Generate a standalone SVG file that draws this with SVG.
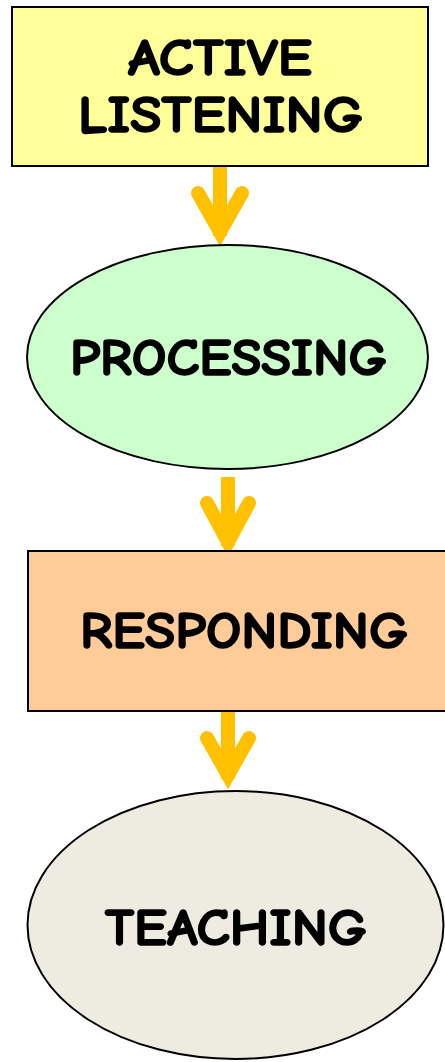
<svg xmlns="http://www.w3.org/2000/svg" width="445" height="1062" viewBox="0 0 445 1062">
<style>
.shape{stroke:#000;stroke-width:2}
.lbl{font-family:"Comic Sans MS","Comic Neue","Noto Sans","DejaVu Sans",sans-serif;font-weight:bold;font-size:52px;fill:#000;stroke:#000;stroke-width:1.6;stroke-linejoin:round}
.shaft{stroke:#FFC000;stroke-width:14;fill:none;stroke-linecap:butt}
.head{stroke:#FFC000;stroke-width:14;fill:none;stroke-linecap:round;stroke-linejoin:miter;stroke-miterlimit:10}
</style>
<rect width="445" height="1062" fill="#fff"/>
<g id="connectors">
  <line class="shaft" x1="220" y1="166" x2="220" y2="236"/>
  <polyline class="head" points="198,193 220,232 242,193"/>
  <line class="shaft" x1="228" y1="477" x2="228" y2="546"/>
  <polyline class="head" points="207,503 228,542 249,503"/>
  <line class="shaft" x1="228" y1="711" x2="228" y2="779"/>
  <polyline class="head" points="207,738 228,775 249,738"/>
</g>
<g id="node-active-listening">
  <rect class="shape" x="12" y="7" width="416" height="159" fill="#FFFF99"/>
  <text class="lbl" x="128" y="75" textLength="184" lengthAdjust="spacingAndGlyphs">ACTIVE</text>
  <text class="lbl" x="78" y="132" textLength="285" lengthAdjust="spacingAndGlyphs">LISTENING</text>
</g>
<g id="node-processing">
  <ellipse class="shape" cx="227.5" cy="357" rx="200.5" ry="112" fill="#CCFFCC"/>
  <text class="lbl" x="70" y="375" textLength="317" lengthAdjust="spacingAndGlyphs">PROCESSING</text>
</g>
<g id="node-responding">
  <rect class="shape" x="28" y="551" width="432" height="160" fill="#FFCC99"/>
  <text class="lbl" x="80" y="648" textLength="328" lengthAdjust="spacingAndGlyphs">RESPONDING</text>
</g>
<g id="node-teaching">
  <ellipse class="shape" cx="235.5" cy="925" rx="208" ry="134" fill="#EEECE1"/>
  <text class="lbl" x="105" y="945" textLength="262" lengthAdjust="spacingAndGlyphs">TEACHING</text>
</g>
</svg>
